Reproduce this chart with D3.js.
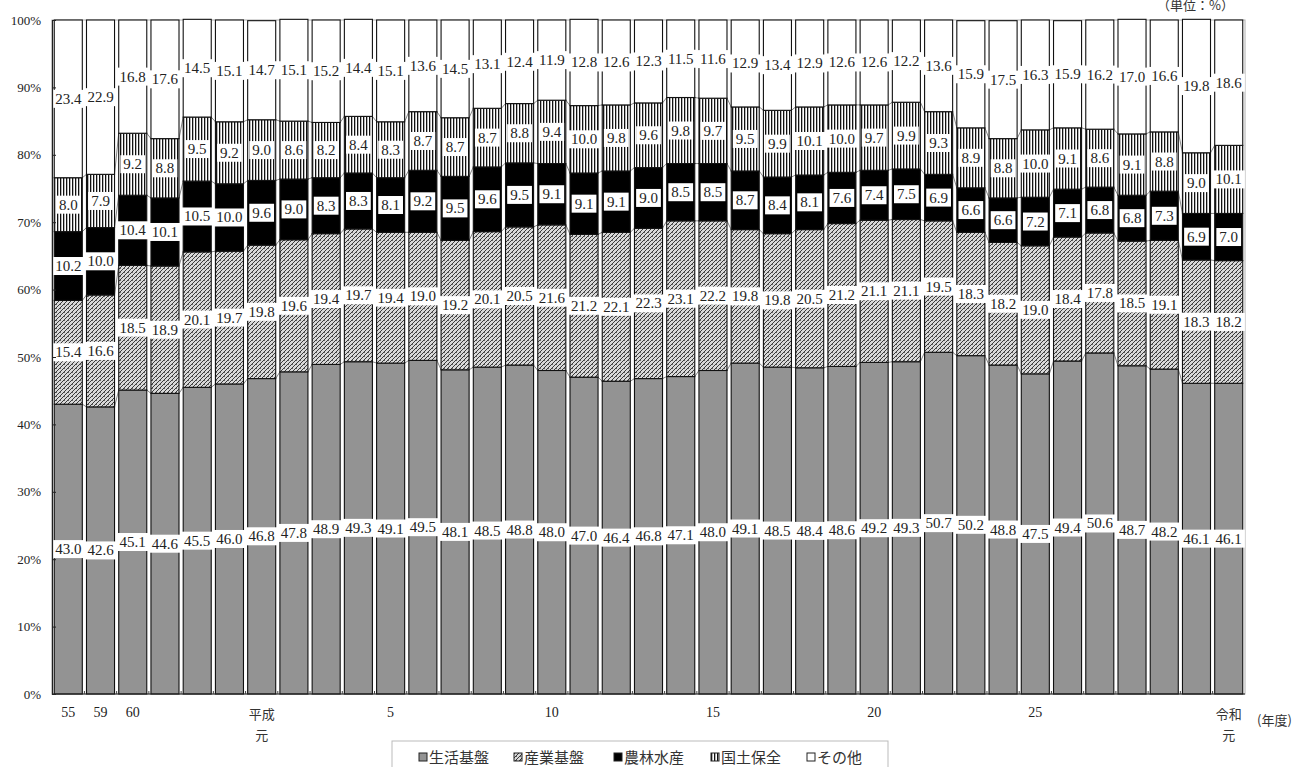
<!DOCTYPE html>
<html lang="ja">
<head>
<meta charset="UTF-8">
<title>行政投資の目的別構成比の推移</title>
<style>
    body { margin: 0; padding: 0; background: #fff; }
    svg { display: block; }
    .num { font-family: "Liberation Serif", "DejaVu Serif", serif; fill: #222; }
    .jp { font-family: "Noto Sans CJK JP", sans-serif; fill: #333; }
</style>
</head>
<body>
<svg id="chart" width="1305" height="767"></svg>
<script src="https://d3js.org/d3.v7.min.js"></script>
<script>
    // 年度（昭和55〜令和元）
    var years = ["55", "59", "60", "61", "62", "63", "平成元", "2", "3", "4", "5", "6", "7", "8", "9", "10",
        "11", "12", "13", "14", "15", "16", "17", "18", "19", "20", "21", "22", "23", "24", "25",
        "26", "27", "28", "29", "30", "令和元"];
    // 軸に表示する年度
    var shownYears = ["55", "59", "60", "平成元", "5", "10", "15", "20", "25", "令和元"];

    var seriesNames = ["生活基盤", "産業基盤", "農林水産", "国土保全", "その他"];

    var seikatsu = [43.0, 42.6, 45.1, 44.6, 45.5, 46.0, 46.8, 47.8, 48.9, 49.3, 49.1, 49.5, 48.1, 48.5, 48.8, 48.0,
        47.0, 46.4, 46.8, 47.1, 48.0, 49.1, 48.5, 48.4, 48.6, 49.2, 49.3, 50.7, 50.2, 48.8, 47.5,
        49.4, 50.6, 48.7, 48.2, 46.1, 46.1];
    var sangyo = [15.4, 16.6, 18.5, 18.9, 20.1, 19.7, 19.8, 19.6, 19.4, 19.7, 19.4, 19.0, 19.2, 20.1, 20.5, 21.6,
        21.2, 22.1, 22.3, 23.1, 22.2, 19.8, 19.8, 20.5, 21.2, 21.1, 21.1, 19.5, 18.3, 18.2, 19.0,
        18.4, 17.8, 18.5, 19.1, 18.3, 18.2];
    var norin = [10.2, 10.0, 10.4, 10.1, 10.5, 10.0, 9.6, 9.0, 8.3, 8.3, 8.1, 9.2, 9.5, 9.6, 9.5, 9.1,
        9.1, 9.1, 9.0, 8.5, 8.5, 8.7, 8.4, 8.1, 7.6, 7.4, 7.5, 6.9, 6.6, 6.6, 7.2,
        7.1, 6.8, 6.8, 7.3, 6.9, 7.0];
    var kokudo = [8.0, 7.9, 9.2, 8.8, 9.5, 9.2, 9.0, 8.6, 8.2, 8.4, 8.3, 8.7, 8.7, 8.7, 8.8, 9.4,
        10.0, 9.8, 9.6, 9.8, 9.7, 9.5, 9.9, 10.1, 10.0, 9.7, 9.9, 9.3, 8.9, 8.8, 10.0,
        9.1, 8.6, 9.1, 8.8, 9.0, 10.1];
    var sonota = [23.4, 22.9, 16.8, 17.6, 14.5, 15.1, 14.7, 15.1, 15.2, 14.4, 15.1, 13.6, 14.5, 13.1, 12.4, 11.9,
        12.8, 12.6, 12.3, 11.5, 11.6, 12.9, 13.4, 12.9, 12.6, 12.6, 12.2, 13.6, 15.9, 17.5, 16.3,
        15.9, 16.2, 17.0, 16.6, 19.8, 18.6];

    var yTicks = [0, 10, 20, 30, 40, 50, 60, 70, 80, 90, 100];

    var seriesValues = [seikatsu, sangyo, norin, kokudo, sonota];

    var svg = d3.select("#chart");
    var plotL = 52, plotR = 1245, plotT = 20, plotB = 694;

    // 模様
    var defs = svg.append("defs");
    var hatch = defs.append("pattern").attr("id", "hatch")
        .attr("patternUnits", "userSpaceOnUse").attr("width", 4).attr("height", 4);
    hatch.append("rect").attr("width", 4).attr("height", 4).attr("fill", "#d8d8d8");
    hatch.append("path").attr("d", "M0,4 L4,0 M-1,1 L1,-1 M3,5 L5,3")
        .attr("stroke", "#3a3a3a").attr("stroke-width", 1);
    hatch.append("rect").attr("x", 0).attr("y", 0).attr("width", 1).attr("height", 1).attr("fill", "#666");

    var stripe = defs.append("pattern").attr("id", "stripe")
        .attr("patternUnits", "userSpaceOnUse").attr("width", 3).attr("height", 3);
    stripe.append("rect").attr("width", 3).attr("height", 3).attr("fill", "#fff");
    stripe.append("rect").attr("x", 0).attr("width", 1.3).attr("height", 3).attr("fill", "#111");

    var fills = ["#939393", "url(#hatch)", "#000", "url(#stripe)", "#fff"];

    var x = d3.scaleBand().domain(years).range([plotL, plotR]).paddingInner(0.13).paddingOuter(0.07);
    var y = d3.scaleLinear().domain([0, 100]).range([plotB, plotT]);

    // 外枠
    svg.append("rect").attr("x", plotL).attr("y", plotT).attr("width", plotR - plotL).attr("height", plotB - plotT)
        .attr("fill", "none").attr("stroke", "#b0b0b0").attr("stroke-width", 1);

    // 積み上げ
    var rows = years.map(function (yr, i) {
        var r = { year: yr };
        seriesNames.forEach(function (s, k) { r[s] = seriesValues[k][i]; });
        return r;
    });
    var stacked = d3.stack().keys(seriesNames)(rows);

    var bw = x.bandwidth();

    // 区分線（系列線）
    stacked.slice(0, 4).forEach(function (layer) {
        for (var i = 0; i < layer.length - 1; i++) {
            svg.append("line")
                .attr("x1", x(years[i]) + bw).attr("y1", y(layer[i][1]))
                .attr("x2", x(years[i + 1])).attr("y2", y(layer[i + 1][1]))
                .attr("stroke", "#666").attr("stroke-width", 0.8);
        }
    });

    stacked.forEach(function (layer, k) {
        svg.append("g").selectAll("rect").data(layer).join("rect")
            .attr("x", function (d, i) { return x(years[i]); })
            .attr("y", function (d) { return y(d[1]); })
            .attr("width", bw)
            .attr("height", function (d) { return y(d[0]) - y(d[1]); })
            .attr("fill", fills[k])
            .attr("stroke", "#111").attr("stroke-width", 1.1);
    });

    // データラベル
    stacked.forEach(function (layer, k) {
        layer.forEach(function (d, i) {
            var cx = x(years[i]) + bw / 2;
            var cy = y((d[0] + d[1]) / 2);
            var g = svg.append("g");
            var t = g.append("text").attr("class", "num")
                .attr("x", cx).attr("y", cy + 5)
                .attr("text-anchor", "middle")
                .attr("font-size", "15px")
                .text(seriesValues[k][i].toFixed(1));
            var w = t.node().getComputedTextLength();
            g.insert("rect", "text")
                .attr("x", cx - w / 2 - 3).attr("y", cy - 9)
                .attr("width", w + 6).attr("height", 18)
                .attr("fill", "#fff");
        });
    });

    // Y軸
    var yAxis = d3.axisLeft(y).tickValues(yTicks).tickSize(-4).tickPadding(11)
        .tickFormat(function (d) { return d + "%"; });
    var gy = svg.append("g").attr("transform", "translate(" + plotL + ",0)").call(yAxis);
    gy.select(".domain").attr("stroke", "#222").attr("stroke-width", 1.2);
    gy.selectAll(".tick line").attr("stroke", "#222");
    gy.selectAll("text").attr("class", "num").attr("font-size", "13px").attr("fill", "#333");

    // X軸
    svg.append("line").attr("x1", plotL).attr("x2", plotR).attr("y1", plotB).attr("y2", plotB)
        .attr("stroke", "#222").attr("stroke-width", 1.2);
    years.forEach(function (yr, i) {
        if (i === 0) return;
        var bx = x(yr) - x.step() * x.paddingInner() / 2;
        svg.append("line").attr("x1", bx).attr("x2", bx).attr("y1", plotB).attr("y2", plotB - 3)
            .attr("stroke", "#444").attr("stroke-width", 1);
    });
    shownYears.forEach(function (yr) {
        var cx = x(yr) + bw / 2;
        if (yr.length > 2 && yr.slice(-1) === "元") {
            svg.append("text").attr("class", "jp").attr("x", cx).attr("y", 719)
                .attr("text-anchor", "middle").attr("font-size", "13px").text(yr.slice(0, 2));
            svg.append("text").attr("class", "jp").attr("x", cx).attr("y", 740)
                .attr("text-anchor", "middle").attr("font-size", "13px").text("元");
        } else {
            svg.append("text").attr("class", "num").attr("x", cx).attr("y", 717)
                .attr("text-anchor", "middle").attr("font-size", "14px").attr("fill", "#333").text(yr);
        }
    });
    svg.append("text").attr("class", "jp").attr("x", 1257).attr("y", 725)
        .attr("font-size", "13px").text("(年度)");

    // 単位
    svg.append("text").attr("class", "jp").attr("x", 1234).attr("y", 10)
        .attr("text-anchor", "end").attr("font-size", "13px").text("（単位：%）");

    // 凡例
    svg.append("rect").attr("x", 392).attr("y", 741).attr("width", 496).attr("height", 40)
        .attr("fill", "#fff").attr("stroke", "#bbb");
    var legendX = [419, 514, 614, 711, 807];
    seriesNames.forEach(function (s, k) {
        svg.append("rect").attr("x", legendX[k]).attr("y", 753).attr("width", 8).attr("height", 8)
            .attr("fill", fills[k]).attr("stroke", "#222").attr("stroke-width", 1);
        svg.append("text").attr("class", "jp").attr("x", legendX[k] + 10).attr("y", 763)
            .attr("font-size", "15px").text(s);
    });
</script>
</body>
</html>
